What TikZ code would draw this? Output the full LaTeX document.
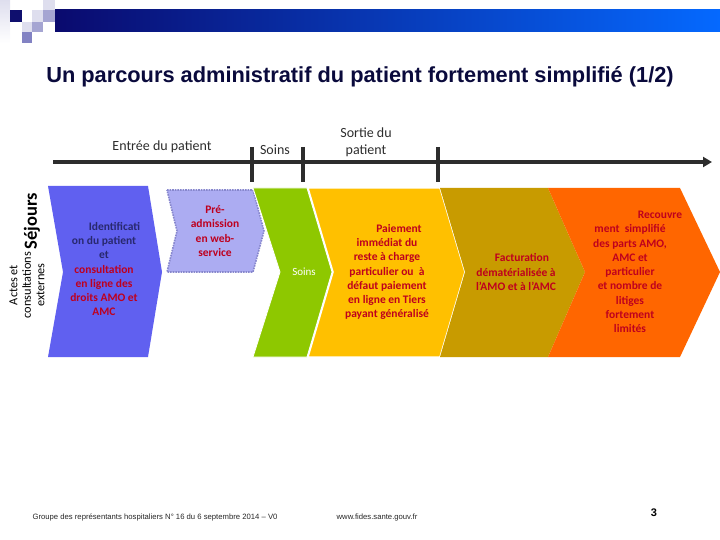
\documentclass[tikz,border=0pt]{standalone}
\usepackage{fontspec}
\setmainfont{Carlito}
\newfontfamily\arialf{Liberation Sans}
\usetikzlibrary{arrows.meta}
\definecolor{hdrL}{RGB}{10,10,110}
\definecolor{hdrR}{RGB}{5,105,255}
\definecolor{sqdark}{RGB}{15,15,110}
\definecolor{sqlight}{RGB}{222,222,238}
\definecolor{sqmed}{RGB}{165,165,210}
\definecolor{sqmed2}{RGB}{130,130,195}
\definecolor{titlec}{RGB}{10,10,60}
\definecolor{linec}{RGB}{45,45,45}
\definecolor{cblue}{RGB}{96,96,240}
\definecolor{clav}{RGB}{172,172,242}
\definecolor{clavb}{RGB}{135,135,205}
\definecolor{cgreen}{RGB}{142,200,0}
\definecolor{cyellow}{RGB}{255,192,0}
\definecolor{cgold}{RGB}{200,155,0}
\definecolor{corange}{RGB}{255,102,0}
\definecolor{tred}{RGB}{190,0,30}
\definecolor{tnavy}{RGB}{40,40,110}
\tikzset{
  bodytxt/.style={align=center, font=\bfseries\fontsize{11.5}{14.3}\selectfont, text=tred, inner sep=0pt},
  axislbl/.style={font=\fontsize{14}{15}\selectfont, text=linec, inner sep=0pt},
  tick/.style={line width=4pt, draw=linec},
  chev/.style={draw=white, line width=0.8pt, line join=miter},
  foottxt/.style={font=\arialf\fontsize{7.7}{8}\selectfont, text=black!85, inner sep=0pt}
}
\begin{document}
\begin{tikzpicture}[x=1pt,y=-1pt]
\useasboundingbox (0,0) rectangle (720,540);
% header bar and squares
\shade[left color=hdrL, right color=hdrR] (55,10) rectangle (720,32);
\shade[top color=sqlight, bottom color=white] (0,0) rectangle (10,43);
\fill[sqdark] (10,10) rectangle (22,22);
\fill[sqlight] (43,0) rectangle (55,10);
\fill[sqlight] (32,10) rectangle (43,22);
\fill[sqmed] (43,10) rectangle (55,22);
\fill[sqlight] (22,22) rectangle (32,32);
\fill[sqmed] (32,22) rectangle (43,32);
\fill[sqmed2] (22,32) rectangle (32,43);
% title
\node[font=\arialf\bfseries\fontsize{21.8}{23}\selectfont, text=titlec, inner sep=0pt] (title) at (360,77)
  {Un parcours administratif du patient fortement simplifié (1/2)};
% timeline
\coordinate (tl0) at (53,162);
\coordinate (tl1) at (712,162);
\draw[line width=4pt, draw=linec, -{Triangle[length=9pt,width=10pt]}] (tl0) -- (tl1);
\coordinate (t1a) at (252,147); \coordinate (t1b) at (252,182);
\coordinate (t2a) at (303,147); \coordinate (t2b) at (303,182);
\coordinate (t3a) at (438,147); \coordinate (t3b) at (438,182);
\draw[tick] (t1a) -- (t1b);
\draw[tick] (t2a) -- (t2b);
\draw[tick] (t3a) -- (t3b);
\node[axislbl] (lentree) at (162,147) {Entrée du patient};
\node[axislbl] (lsoins) at (275,150) {Soins};
\node[axislbl, align=center, font=\fontsize{14}{17}\selectfont] (lsortie) at (366,142) {Sortie du\\patient};
% side labels
\node[rotate=90, font=\bfseries\fontsize{18.5}{19}\selectfont, text=black, inner sep=0pt] (sej) at (32,221) {Séjours};
\node[rotate=90, align=center, font=\fontsize{12.3}{13.5}\selectfont, text=black, inner sep=0pt] (actes) at (27,285) {Actes et\\consultations\\externes};
% chevrons
\fill[cblue] (48,186) -- (148,186) -- (162,272) -- (148,357) -- (48,357) -- (63,272) -- cycle;
\filldraw[fill=clav, draw=clavb, line width=1.6pt, densely dotted] (167,190) -- (253,190) -- (264,231) -- (253,272) -- (167,272) -- (177,231) -- cycle;
\filldraw[chev, fill=cgreen] (253,188) -- (307,188) -- (332,272) -- (307,357) -- (253,357) -- (280,272) -- cycle;
\filldraw[chev, fill=cyellow, line width=1.5pt] (308,188) -- (440,188) -- (465,272) -- (440,357) -- (308,357) -- (333,272) -- cycle;
\fill[cgold] (440,188) -- (548,188) -- (585,272) -- (548,357) -- (440,357) -- (465,272) -- cycle;
\fill[corange] (548,188) -- (680,188) -- (720,272) -- (680,357) -- (548,357) -- (585,272) -- cycle;
% chevron texts
\node[bodytxt] (tident) at (104,269)
  {\textcolor{tnavy}{\hspace*{21pt}Identificati}\\\textcolor{tnavy}{on du patient}\\\textcolor{tnavy}{et}\\consultation\\en ligne des\\droits AMO et\\AMC};
\node[bodytxt] (tpre) at (215,231) {Pré-\\admission\\en web-\\service};
\node[font=\fontsize{11}{13}\selectfont, text=white, inner sep=0pt] (tsoins) at (304,272) {Soins};
\node[bodytxt] (tpaie) at (387,272)
  {\hspace*{24pt}Paiement\\immédiat du\\reste à charge\\particulier ou~ à\\défaut paiement\\en ligne en Tiers\\payant généralisé};
\node[bodytxt] (tfact) at (516,272) {\hspace*{12pt}Facturation\\dématérialisée à\\l’AMO et à l’AMC};
\node[bodytxt] (treco) at (630,272)
  {\hspace*{60pt}Recouvre\\ment~ simplifié\\des parts AMO,\\AMC et\\particulier\\et nombre de\\litiges\\fortement\\limités};
% footer
\node[foottxt] (foot1) at (155,517)
  {Groupe des représentants hospitaliers N° 16 du 6 septembre 2014 – V0};
\node[foottxt] (foot2) at (377,518) {www.fides.sante.gouv.fr};
\node[font=\arialf\bfseries\fontsize{11}{12}\selectfont, text=black, inner sep=0pt] (pnum) at (654,513) {3};
\end{tikzpicture}
\end{document}
